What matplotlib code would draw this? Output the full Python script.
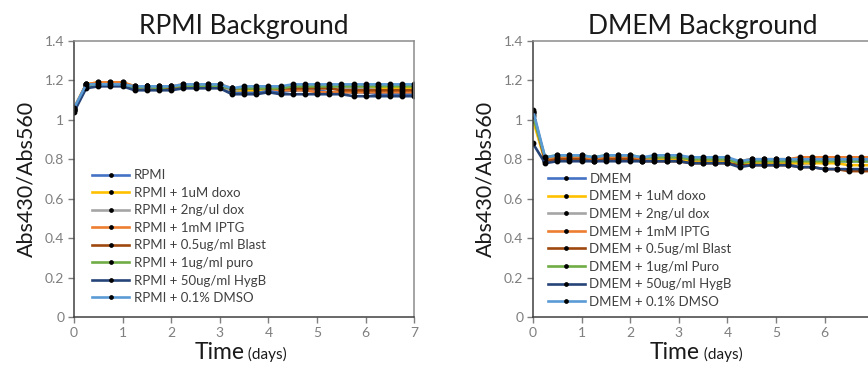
import numpy as np
import matplotlib
matplotlib.use("Agg")
import matplotlib.pyplot as plt

plt.rcParams['font.family'] = ['Lato', 'DejaVu Sans']

# time points (days)
t = np.arange(29) * 0.25

colors = ["#4472C4", "#FFC000", "#A5A5A5", "#ED7D31",
          "#9E480E", "#70AD47", "#264478", "#5B9BD5"]

rpmi_labels = ["RPMI", "RPMI + 1uM doxo", "RPMI + 2ng/ul dox", "RPMI + 1mM IPTG",
               "RPMI + 0.5ug/ml Blast", "RPMI + 1ug/ml puro", "RPMI + 50ug/ml HygB",
               "RPMI + 0.1% DMSO"]
dmem_labels = ["DMEM", "DMEM + 1uM doxo", "DMEM + 2ng/ul dox", "DMEM + 1mM IPTG",
               "DMEM + 0.5ug/ml Blast", "DMEM + 1ug/ml Puro", "DMEM + 50ug/ml HygB",
               "DMEM + 0.1% DMSO"]

rpmi_plain = [1.05, 1.17, 1.18, 1.18, 1.18, 1.16, 1.16, 1.16, 1.16, 1.17, 1.17, 1.17, 1.17, 1.14, 1.14,
              1.14, 1.15, 1.14, 1.15, 1.15, 1.15, 1.14, 1.14, 1.14, 1.14, 1.13, 1.13, 1.13, 1.13]
rpmi_doxo = [1.06, 1.18, 1.19, 1.19, 1.19, 1.17, 1.17, 1.17, 1.17, 1.17, 1.17, 1.17, 1.17, 1.15, 1.15,
             1.15, 1.16, 1.16, 1.16, 1.17, 1.17, 1.16, 1.16, 1.16, 1.16, 1.16, 1.16, 1.16, 1.16]
rpmi_dox = [1.05, 1.17, 1.18, 1.18, 1.18, 1.16, 1.17, 1.16, 1.16, 1.17, 1.17, 1.17, 1.17, 1.15, 1.16,
            1.16, 1.16, 1.15, 1.16, 1.16, 1.16, 1.16, 1.16, 1.16, 1.16, 1.15, 1.15, 1.15, 1.15]
rpmi_iptg = [1.06, 1.18, 1.19, 1.19, 1.19, 1.17, 1.17, 1.17, 1.17, 1.18, 1.18, 1.18, 1.18, 1.16, 1.16,
             1.16, 1.16, 1.15, 1.15, 1.15, 1.14, 1.14, 1.14, 1.14, 1.14, 1.14, 1.14, 1.14, 1.14]
rpmi_blast = [1.05, 1.18, 1.18, 1.18, 1.18, 1.16, 1.17, 1.16, 1.16, 1.17, 1.17, 1.17, 1.17, 1.16, 1.16,
              1.16, 1.16, 1.16, 1.16, 1.16, 1.16, 1.16, 1.15, 1.15, 1.15, 1.15, 1.15, 1.15, 1.15]
rpmi_puro = [1.05, 1.17, 1.18, 1.18, 1.18, 1.16, 1.17, 1.16, 1.17, 1.17, 1.17, 1.17, 1.17, 1.16, 1.16,
             1.16, 1.16, 1.16, 1.17, 1.17, 1.17, 1.17, 1.17, 1.17, 1.17, 1.17, 1.17, 1.17, 1.17]
rpmi_hygb = [1.04, 1.16, 1.17, 1.17, 1.17, 1.15, 1.15, 1.15, 1.15, 1.16, 1.16, 1.16, 1.16, 1.13, 1.13,
             1.13, 1.14, 1.13, 1.13, 1.13, 1.13, 1.13, 1.13, 1.12, 1.12, 1.12, 1.12, 1.12, 1.12]
rpmi_dmso = [1.06, 1.18, 1.18, 1.18, 1.18, 1.17, 1.17, 1.17, 1.17, 1.18, 1.18, 1.18, 1.18, 1.16, 1.17,
             1.17, 1.17, 1.17, 1.18, 1.18, 1.18, 1.18, 1.18, 1.18, 1.18, 1.18, 1.18, 1.18, 1.18]

dmem_plain = [1.04, 0.80, 0.81, 0.81, 0.81, 0.80, 0.81, 0.81, 0.81, 0.80, 0.80, 0.80, 0.80, 0.79, 0.79,
              0.79, 0.79, 0.77, 0.78, 0.78, 0.78, 0.78, 0.78, 0.78, 0.79, 0.79, 0.79, 0.79, 0.79]
dmem_doxo = [1.00, 0.79, 0.80, 0.80, 0.80, 0.79, 0.80, 0.80, 0.80, 0.79, 0.80, 0.80, 0.80, 0.79, 0.79,
             0.79, 0.79, 0.77, 0.78, 0.78, 0.78, 0.78, 0.78, 0.78, 0.78, 0.78, 0.77, 0.77, 0.77]
dmem_dox = [1.03, 0.80, 0.81, 0.81, 0.81, 0.80, 0.81, 0.81, 0.81, 0.80, 0.81, 0.81, 0.81, 0.80, 0.80,
            0.80, 0.80, 0.79, 0.80, 0.80, 0.80, 0.80, 0.80, 0.80, 0.80, 0.80, 0.80, 0.80, 0.80]
dmem_iptg = [1.04, 0.80, 0.81, 0.81, 0.81, 0.80, 0.81, 0.81, 0.81, 0.80, 0.81, 0.81, 0.81, 0.80, 0.80,
             0.80, 0.80, 0.79, 0.80, 0.80, 0.80, 0.80, 0.81, 0.81, 0.81, 0.81, 0.81, 0.81, 0.81]
dmem_blast = [1.04, 0.79, 0.80, 0.80, 0.80, 0.79, 0.80, 0.80, 0.80, 0.79, 0.79, 0.79, 0.79, 0.78, 0.78,
              0.78, 0.78, 0.77, 0.77, 0.77, 0.77, 0.77, 0.76, 0.76, 0.75, 0.75, 0.74, 0.74, 0.74]
dmem_puro = [1.02, 0.81, 0.82, 0.82, 0.82, 0.81, 0.82, 0.82, 0.82, 0.81, 0.81, 0.81, 0.81, 0.80, 0.80,
             0.80, 0.80, 0.78, 0.79, 0.79, 0.79, 0.79, 0.79, 0.79, 0.79, 0.79, 0.79, 0.79, 0.79]
dmem_hygb = [0.88, 0.78, 0.79, 0.79, 0.79, 0.79, 0.79, 0.79, 0.79, 0.79, 0.79, 0.79, 0.79, 0.78, 0.78,
             0.78, 0.78, 0.76, 0.77, 0.77, 0.77, 0.77, 0.76, 0.76, 0.75, 0.75, 0.75, 0.75, 0.75]
dmem_dmso = [1.05, 0.81, 0.82, 0.82, 0.82, 0.81, 0.82, 0.82, 0.82, 0.81, 0.82, 0.82, 0.82, 0.81, 0.81,
             0.81, 0.81, 0.79, 0.80, 0.80, 0.80, 0.80, 0.80, 0.80, 0.80, 0.80, 0.80, 0.80, 0.80]

rpmi = [rpmi_plain, rpmi_doxo, rpmi_dox, rpmi_iptg, rpmi_blast, rpmi_puro, rpmi_hygb, rpmi_dmso]
dmem = [dmem_plain, dmem_doxo, dmem_dox, dmem_iptg, dmem_blast, dmem_puro, dmem_hygb, dmem_dmso]

fig = plt.figure(figsize=(8.68, 3.66), dpi=100)
ax1 = fig.add_axes([0.0853, 0.134, 0.392, 0.754])
ax2 = fig.add_axes([0.614, 0.134, 0.392, 0.754])


def draw(ax, series, labels, title, leg_anchor, xlab):
    for s, c, lab in zip(series, colors, labels):
        ax.plot(t, s, color=c, lw=1.9, marker="o", ms=3.2,
                mfc="black", mec="black", label=lab)
    ax.set_xlim(0, 7)
    ax.set_ylim(0, 1.4)
    ax.set_xticks(range(8))
    ax.set_yticks(np.arange(0, 1.41, 0.2))
    ax.set_yticklabels(["0", "0.2", "0.4", "0.6", "0.8", "1", "1.2", "1.4"])
    ax.tick_params(direction="out", length=4, width=1, colors="#7f7f7f",
                   labelsize=10, labelcolor="#7f7f7f", pad=3)
    for side in ["left", "bottom"]:
        ax.spines[side].set_color("#404040")
        ax.spines[side].set_linewidth(1.1)
    for side in ["top", "right"]:
        ax.spines[side].set_color("#8c8c8c")
        ax.spines[side].set_linewidth(1.1)
    ax.set_title(title, fontsize=19, pad=5, color="#1a1a1a")
    ax.set_ylabel("Abs430/Abs560", fontsize=15.5, color="#1a1a1a", labelpad=6)
    ax.annotate("Time", xy=(xlab, 0.018), xycoords=("axes fraction", "figure fraction"),
                ha="right", va="baseline", fontsize=16.5, color="#1a1a1a")
    ax.annotate(" (days)", xy=(xlab, 0.018), xycoords=("axes fraction", "figure fraction"),
                ha="left", va="baseline", fontsize=11, color="#1a1a1a")
    ax.legend(loc="upper left", bbox_to_anchor=leg_anchor, frameon=False,
              fontsize=9.5, handlelength=2.8, handletextpad=0.35, markerscale=0.75,
              labelspacing=0.42, borderpad=0, borderaxespad=0, labelcolor="#404040")


draw(ax1, rpmi, rpmi_labels, "RPMI Background", (0.053, 0.535), 0.50)
draw(ax2, dmem, dmem_labels, "DMEM Background", (0.044, 0.522), 0.49)

fig.savefig("out.png", dpi=100)
